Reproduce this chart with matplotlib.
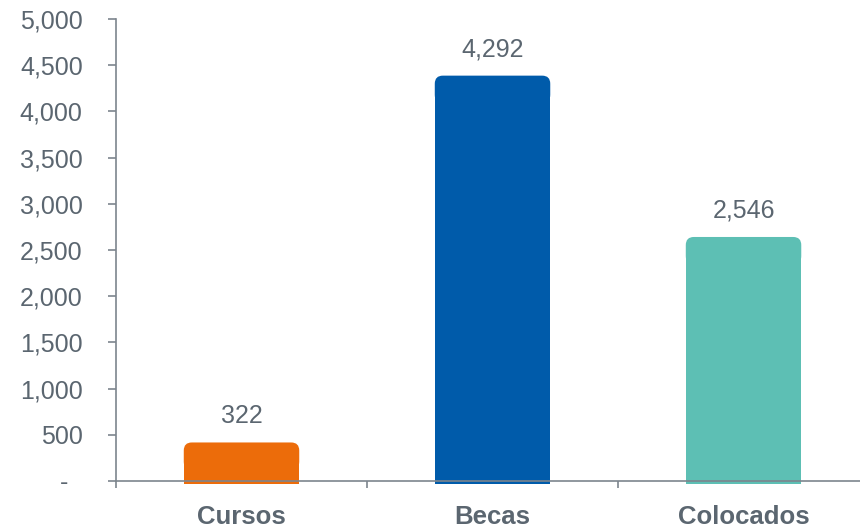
import matplotlib
matplotlib.use("Agg")
import matplotlib.pyplot as plt
from matplotlib.patches import FancyBboxPatch, Rectangle

categories = ["Cursos", "Becas", "Colocados"]
values = [322, 4292, 2546]
value_labels = ["322", "4,292", "2,546"]
colors = ["#EC6C0A", "#005BAA", "#5DBFB4"]
yticks = [0, 500, 1000, 1500, 2000, 2500, 3000, 3500, 4000, 4500, 5000]
ytick_labels = ["-  ", "500", "1,000", "1,500", "2,000", "2,500", "3,000", "3,500", "4,000", "4,500", "5,000"]

plt.rcParams["font.family"] = ["Liberation Sans", "DejaVu Sans"]
text_col = "#5b6670"
axis_col = "#7d858d"

fig = plt.figure(figsize=(8.6, 5.3), dpi=100)
ax = fig.add_axes([116/860, 49/530, 744/860, 462/530])

bar_w = 0.46
cap = 95        # rounded top adds a little height
radius_x = 0.032
aspect = (5000/462) * 251   # data-y per data-x in pixels

for i, (v, c) in enumerate(zip(values, colors)):
    x0 = i - bar_w/2
    # square lower part, slightly below the baseline
    ax.add_patch(Rectangle((x0, -30), bar_w, v + 30, facecolor=c, edgecolor="none",
                           clip_on=False, zorder=1))
    # rounded top cap
    ax.add_patch(FancyBboxPatch((x0, v - 200), bar_w, 200 + cap,
                                boxstyle="round,pad=0,rounding_size=%f" % radius_x,
                                mutation_aspect=aspect, facecolor=c, edgecolor="none",
                                clip_on=False, zorder=1))
    ax.annotate(value_labels[i], (i, v + cap), xytext=(0, 19), textcoords="offset points",
                ha="center", va="center", fontsize=18, color=text_col)

for s in ["top", "right"]:
    ax.spines[s].set_visible(False)
for s in ["left", "bottom"]:
    ax.spines[s].set_color(axis_col)
    ax.spines[s].set_linewidth(1.2)
    ax.spines[s].set_zorder(3)

ax.set_yticks(yticks)
ax.set_yticklabels(ytick_labels)
ax.tick_params(axis="y", length=6, width=1.2, color=axis_col, pad=18,
               labelsize=18, labelcolor=text_col)

ax.set_xticks(range(len(categories)))
ax.set_xticklabels(categories, fontweight="bold")
ax.tick_params(axis="x", which="major", length=0, pad=17, labelsize=18.5, labelcolor=text_col)
ax.set_xticks([-0.5, 0.5, 1.5, 2.5], minor=True)
ax.tick_params(axis="x", which="minor", length=5, width=1.2, color=axis_col)

ax.set_xlim(-0.5, 2.464)
ax.set_ylim(0, 5000)

fig.savefig("out.png", dpi=100)
